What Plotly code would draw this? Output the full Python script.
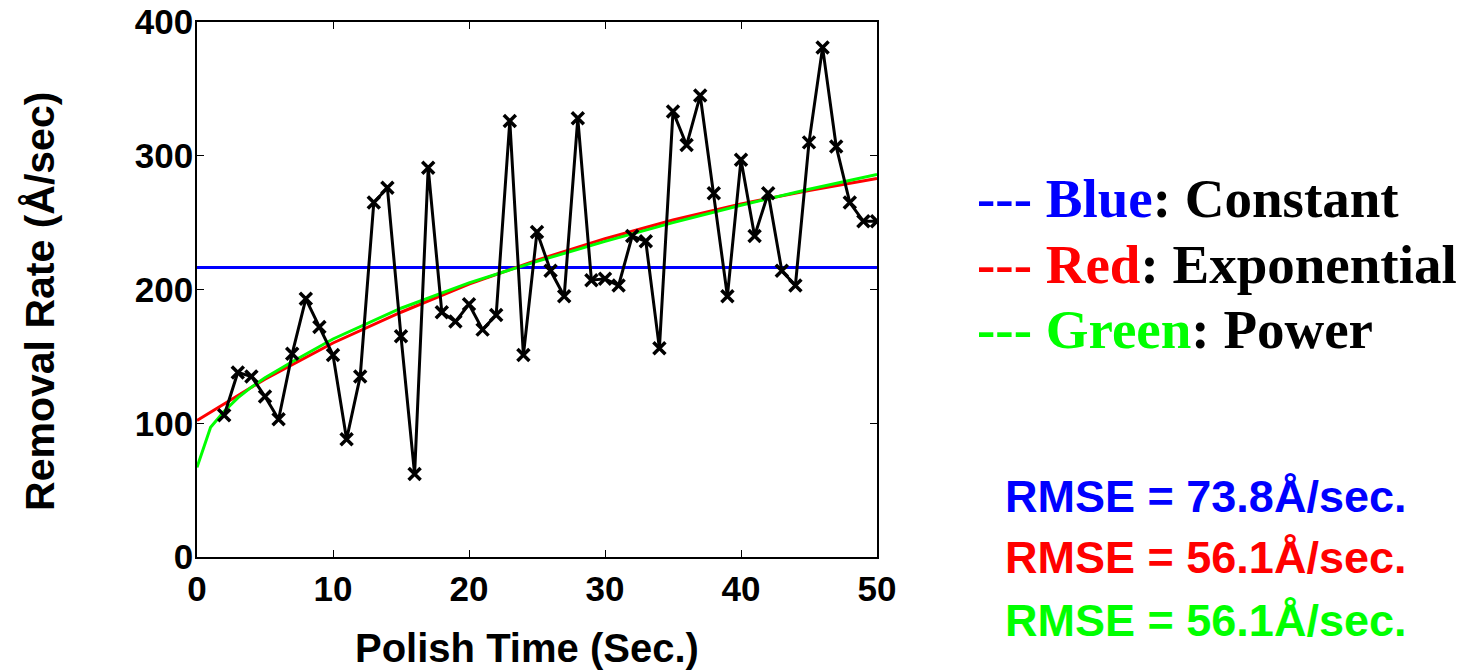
import plotly.graph_objects as go

# Measured removal rate (Å/sec) vs polish time (sec)
time_s = list(range(2, 51))
rate = [106, 138, 135, 120, 103, 152, 193, 172, 151, 88, 135, 265, 276, 165, 62,
        291, 183, 176, 189, 170, 181, 326, 151, 243, 214, 195, 328, 207, 208, 203,
        240, 236, 156, 333, 308, 345, 272, 195, 297, 240, 272, 214, 203, 310, 381,
        307, 265, 251, 251]

# Constant fit
const_x = [0, 50]
const_y = [216.5, 216.5]

# Exponential fit
exp_x = [0, 5, 10, 15, 20, 25, 30, 35, 40, 45, 50]
exp_y = [102, 133, 160, 183, 204, 222, 238, 252, 264, 274, 283]

# Power fit
pow_x = [0, 1, 2, 3, 4, 5, 7, 10, 15, 20, 25, 30, 35, 40, 45, 50]
pow_y = [67, 97, 109, 119, 127, 134, 146, 163, 186, 205, 221, 236, 250, 263, 275, 286]

x_ticks = [0, 10, 20, 30, 40, 50]
y_ticks = [0, 100, 200, 300, 400]

legend_lines = [("Blue", "#0000ff", "Constant"),
                ("Red", "#ff0000", "Exponential"),
                ("Green", "#00ff00", "Power")]
rmse_lines = [("73.8", "#0000ff"), ("56.1", "#ff0000"), ("56.1", "#00ff00")]

fig = go.Figure()
fig.add_trace(go.Scatter(x=const_x, y=const_y, mode="lines",
                         line=dict(color="#0000ff", width=3), showlegend=False))
fig.add_trace(go.Scatter(x=exp_x, y=exp_y, mode="lines",
                         line=dict(color="#ff0000", width=3), showlegend=False))
fig.add_trace(go.Scatter(x=pow_x, y=pow_y, mode="lines",
                         line=dict(color="#00ff00", width=3), showlegend=False))
fig.add_trace(go.Scatter(x=time_s, y=rate, mode="lines+markers",
                         line=dict(color="black", width=3),
                         marker=dict(symbol="x-thin", size=12, color="black",
                                     line=dict(color="black", width=3.5)),
                         showlegend=False))

tickfont = dict(family="Liberation Sans", size=35, color="black", weight="bold")
fig.update_xaxes(range=[0, 50], tickvals=x_ticks, ticks="inside", ticklen=7,
                 tickcolor="black", showline=True, linecolor="black", linewidth=1.5,
                 mirror="ticks", showgrid=False, zeroline=False, automargin=False,
                 tickfont=tickfont)
fig.update_yaxes(range=[0, 400], tickvals=y_ticks, ticks="inside", ticklen=7,
                 tickcolor="black", showline=True, linecolor="black", linewidth=1.5,
                 mirror="ticks", showgrid=False, zeroline=False, automargin=False,
                 tickfont=tickfont, ticklabelstandoff=-5)

annotations = [
    dict(text="<b>Polish Time (Sec.)</b>", xref="paper", yref="paper",
         x=0.4846, y=-0.170, xanchor="center", yanchor="middle", showarrow=False,
         font=dict(family="Liberation Sans", size=40, color="black")),
    dict(text="<b>Removal Rate (Å/sec)</b>", xref="paper", yref="paper",
         x=-0.231, y=0.4785, xanchor="center", yanchor="middle", showarrow=False,
         textangle=-90, font=dict(family="Liberation Sans", size=41, color="black")),
]
leg_y = [0.671, 0.5458, 0.4243]
for (name, col, desc), yy in zip(legend_lines, leg_y):
    annotations.append(dict(
        text=f"<b><span style='color:{col}'>--- {name}</span>: {desc}</b>",
        xref="paper", yref="paper", x=1.144, y=yy, xanchor="left", yanchor="middle",
        showarrow=False, font=dict(family="Liberation Serif", size=55, color="black")))
rm_y = [0.114, 0.0, -0.1178]
for (val, col), yy in zip(rmse_lines, rm_y):
    annotations.append(dict(
        text=f"<b>RMSE = {val}Å/sec.</b>", xref="paper", yref="paper",
        x=1.4838, y=yy, xanchor="center", yanchor="middle", showarrow=False,
        font=dict(family="Liberation Sans", size=45, color=col)))

fig.update_layout(width=1467, height=672, margin=dict(l=197, r=590, t=22, b=115),
                  paper_bgcolor="white", plot_bgcolor="white",
                  annotations=annotations)

fig.write_html("out.html")
